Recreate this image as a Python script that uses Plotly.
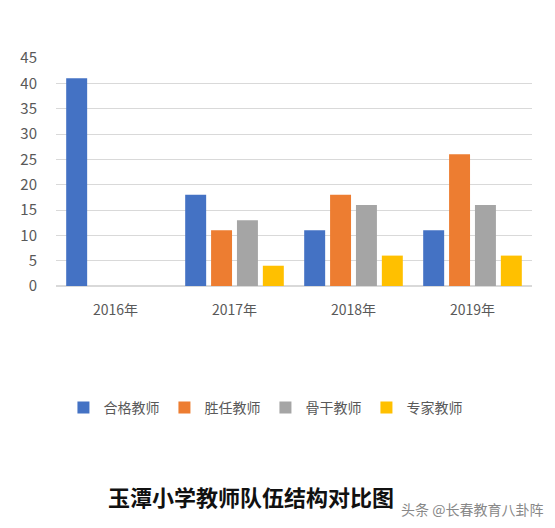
import plotly.graph_objects as go

categories = ["2016年", "2017年", "2018年", "2019年"]
series_names = ["合格教师", "胜任教师", "骨干教师", "专家教师"]
qualified = [41, 18, 11, 11]
competent = [0, 11, 18, 26]
backbone = [0, 13, 16, 16]
expert = [0, 4, 6, 6]
colors = ["#4472C4", "#ED7D31", "#A5A5A5", "#FFC000"]
y_ticks = [0, 5, 10, 15, 20, 25, 30, 35, 40, 45]

fig = go.Figure()
for name, vals, c in zip(series_names, [qualified, competent, backbone, expert], colors):
    fig.add_trace(go.Bar(x=categories, y=vals, name=name, marker=dict(color=c, line=dict(width=0))))

font = "Noto Sans CJK SC"
fig.update_layout(
    width=547, height=520,
    paper_bgcolor="white", plot_bgcolor="white",
    margin=dict(l=48, r=23, t=50, b=242),
    barmode="group", bargap=0.13, bargroupgap=0.19,
    font=dict(family=font, color="#595959", size=14),
    showlegend=True,
    legend=dict(orientation="h", x=0.44, xanchor="center", y=-0.535, yanchor="middle",
                font=dict(size=14, color="#595959"), itemwidth=30, traceorder="normal"),
    xaxis=dict(showgrid=False, showline=False, ticks="", ticklabelstandoff=14,
               tickfont=dict(size=14, color="#595959")),
    yaxis=dict(range=[0, 45], tickvals=y_ticks, showgrid=True, gridcolor="#D9D9D9",
               gridwidth=1, zeroline=True, zerolinecolor="#D9D9D9", showline=False,
               ticks="", ticklabelstandoff=18, tickfont=dict(size=15, color="#595959")),
    annotations=[
        dict(text="<b>玉潭小学教师队伍结构对比图</b>", xref="paper", yref="paper",
             x=0.41, y=-0.92, showarrow=False, xanchor="center", yanchor="middle",
             font=dict(family="Noto Sans CJK SC", size=22, color="#111111")),
        dict(text="头条 @长春教育八卦阵", xref="paper", yref="paper",
             x=1.027, y=-0.98, showarrow=False, xanchor="right", yanchor="middle",
             font=dict(family=font, size=14, color="#888888")),
    ],
)
fig.write_html("out.html")
